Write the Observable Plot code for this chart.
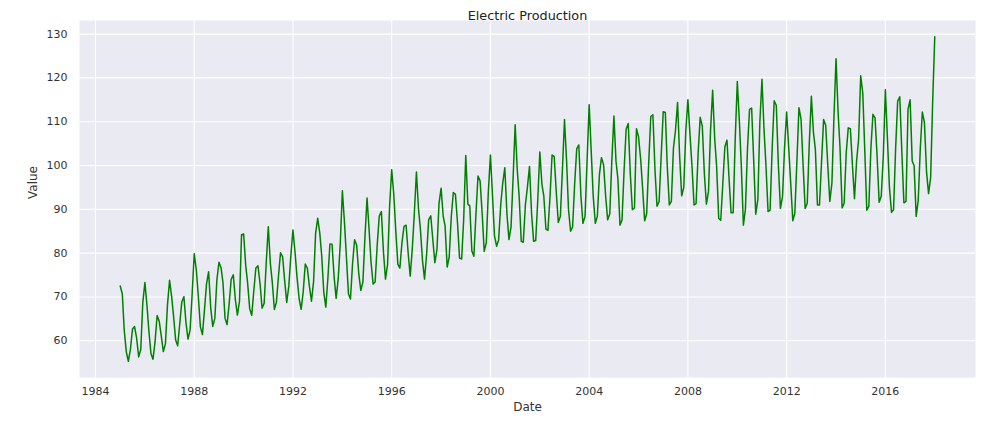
<!DOCTYPE html>
<html><head><meta charset="utf-8">
<script src="https://cdn.jsdelivr.net/npm/d3@7"></script>
<script src="https://cdn.jsdelivr.net/npm/@observablehq/plot@0.6"></script>
<style>
body{margin:0;background:#fff;}
</style></head><body><div id="chart"></div>
<script>
const title = "Electric Production";
const xLabel = "Date";
const yLabel = "Value";
const startYear = 1985;
// monthly values, one row per year, starting January 1985
const production = [
  72.51, 70.67, 62.45, 57.47, 55.32, 58.09, 62.62, 63.25, 60.58, 56.32, 58.00, 68.71,
  73.31, 67.99, 62.22, 57.03, 55.81, 59.90, 65.77, 64.48, 61.00, 57.53, 59.34, 68.14,
  73.82, 70.06, 65.61, 60.16, 58.87, 63.89, 68.87, 70.07, 64.12, 60.38, 62.46, 70.58,
  79.87, 76.16, 70.29, 63.24, 61.41, 67.11, 72.98, 75.77, 67.52, 63.28, 65.11, 73.86,
  77.92, 76.68, 73.35, 65.11, 63.69, 68.47, 74.03, 75.04, 69.31, 65.87, 69.07, 84.19,
  84.36, 77.17, 73.20, 67.28, 65.82, 71.47, 76.61, 77.11, 73.06, 67.44, 68.57, 77.68,
  86.02, 77.56, 73.37, 67.15, 68.82, 74.84, 80.09, 79.16, 73.57, 68.75, 72.52, 79.49,
  85.29, 80.16, 74.53, 69.64, 67.18, 71.21, 77.51, 76.54, 72.35, 69.03, 73.50, 84.52,
  87.95, 84.56, 79.47, 71.06, 67.68, 74.33, 82.10, 82.06, 74.60, 69.68, 74.23, 82.20,
  94.23, 87.08, 79.34, 70.72, 69.54, 77.64, 83.06, 81.78, 75.25, 71.47, 73.45, 83.62,
  92.60, 85.25, 77.98, 72.94, 73.41, 81.95, 88.48, 89.48, 80.31, 74.08, 77.45, 90.71,
  99.04, 93.37, 85.19, 77.50, 76.59, 82.41, 86.09, 86.38, 79.92, 74.76, 81.10, 89.10,
  98.54, 90.03, 85.43, 78.30, 74.08, 79.78, 87.59, 88.51, 83.01, 77.81, 80.87, 91.29,
  94.83, 88.42, 86.21, 76.82, 79.12, 88.43, 93.84, 93.41, 86.89, 78.86, 78.66, 87.70,
  102.3, 91.2, 90.8, 80.5, 79.3, 89.0, 97.6, 96.5, 89.0, 80.4, 82.4, 94.0,
  102.4, 93.0, 84.0, 81.6, 83.0, 91.0, 96.0, 99.5, 89.0, 83.1, 86.0, 97.0,
  109.3, 99.0, 93.0, 82.7, 82.5, 91.0, 95.0, 99.8, 89.0, 82.7, 82.9, 92.0,
  103.1, 95.7, 93.0, 85.5, 85.2, 93.0, 102.4, 102.1, 94.0, 87.0, 88.4, 99.0,
  110.5, 101.0, 90.0, 85.0, 86.0, 96.0, 103.8, 104.7, 93.0, 86.8, 88.4, 101.0,
  113.9, 103.0, 93.0, 86.8, 88.4, 98.0, 101.8, 100.2, 93.0, 87.6, 89.0, 101.0,
  111.3, 101.0, 97.0, 86.4, 87.5, 99.0, 108.3, 109.6, 98.0, 89.9, 90.3, 108.4,
  106.5, 101.4, 95.0, 87.4, 89.0, 101.0, 111.2, 111.6, 99.0, 90.7, 91.8, 102.0,
  112.3, 112.1, 100.0, 91.0, 91.8, 104.0, 108.0, 114.4, 102.0, 93.1, 95.0, 108.0,
  115.0, 107.0, 100.0, 91.0, 91.3, 103.0, 111.0, 109.0, 98.0, 91.2, 94.1, 108.0,
  117.2, 106.0, 99.8, 87.9, 87.5, 96.0, 104.3, 105.8, 97.0, 89.2, 89.2, 106.0,
  119.2, 110.0, 100.0, 86.4, 90.0, 104.0, 112.8, 113.1, 101.0, 88.9, 92.2, 110.0,
  119.7, 108.0, 100.0, 89.5, 89.8, 104.0, 114.8, 113.7, 100.0, 90.2, 92.9, 104.0,
  112.2, 104.0, 96.0, 87.4, 89.1, 101.0, 113.2, 110.6, 100.0, 90.2, 91.4, 105.0,
  115.8, 107.5, 103.7, 91.0, 91.0, 101.0, 110.5, 109.2, 100.0, 91.8, 96.0, 111.0,
  124.4, 112.0, 104.0, 90.3, 91.4, 103.0, 108.6, 108.4, 100.0, 92.4, 101.0, 106.0,
  120.5, 116.5, 104.0, 89.8, 90.7, 104.0, 111.7, 110.9, 102.0, 91.6, 93.0, 102.0,
  117.3, 106.0, 95.0, 89.3, 89.9, 104.0, 114.7, 115.7, 103.0, 91.5, 91.8, 112.8,
  115.0, 101.0, 100.0, 88.4, 92.0, 104.0, 112.2, 109.8, 98.6, 93.6, 97.3, 114.7,
  129.4
];
const yTicks = [60, 70, 80, 90, 100, 110, 120, 130];
const xTickYears = [1984, 1988, 1992, 1996, 2000, 2004, 2008, 2012, 2016];

const data = production.map((v, i) => ({date: new Date(Date.UTC(startYear, i, 1)), value: v}));
const [d0, d1] = d3.extent(data, d => d.date);
const pad = (d1 - d0) * 0.05;
const [v0, v1] = d3.extent(data, d => d.value);
const vpad = (v1 - v0) * 0.05;
const xTicks = xTickYears.map(y => new Date(Date.UTC(y, 0, 1)));

const chart = Plot.plot({
  width: 997, height: 433,
  marginLeft: 79, marginRight: 22, marginTop: 20, marginBottom: 56,
  style: {fontFamily: "DejaVu Sans", fontSize: "11px", color: "#333", background: "#fff"},
  x: {type: "utc", domain: [new Date(+d0 - pad), new Date(+d1 + pad)]},
  y: {domain: [v0 - vpad, v1 + vpad]},
  marks: [
    Plot.frame({fill: "#EAEAF2", stroke: "none"}),
    Plot.gridX(xTicks, {stroke: "#fff", strokeOpacity: 1, strokeWidth: 1.1}),
    Plot.gridY(yTicks, {stroke: "#fff", strokeOpacity: 1, strokeWidth: 1.1}),
    Plot.axisX(xTicks, {tickSize: 0, tickPadding: 10, tickFormat: d3.utcFormat("%Y"), label: null, fill: "#333"}),
    Plot.axisY(yTicks, {tickSize: 0, tickPadding: 12, label: null, fill: "#333"}),
    Plot.lineY(data, {x: "date", y: "value", stroke: "green", strokeWidth: 1.5}),
    Plot.text([title], {frameAnchor: "top", dy: -10, fontSize: 12.8, fill: "#222"}),
    Plot.text([xLabel], {frameAnchor: "bottom", dy: 33, fontSize: 12, fill: "#333"}),
    Plot.text([yLabel], {frameAnchor: "left", dx: -46, rotate: -90, fontSize: 12, fill: "#333"})
  ]
});
document.getElementById("chart").appendChild(chart);
</script>
</body></html>
